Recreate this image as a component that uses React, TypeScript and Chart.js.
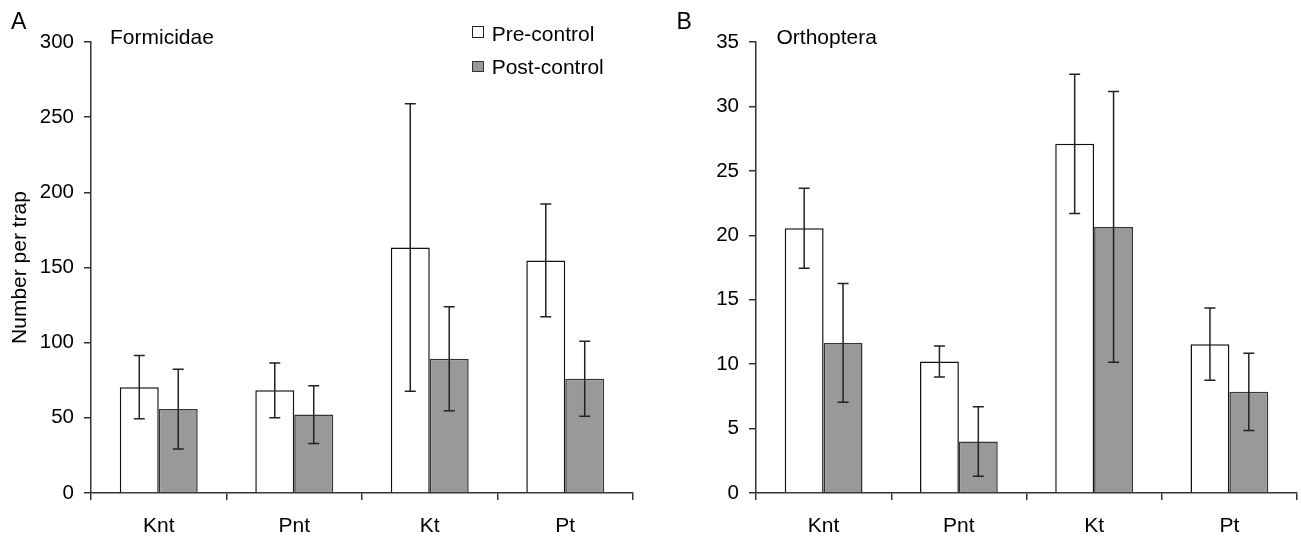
import React, { useEffect, useRef } from "react";
import { Chart, registerables } from "chart.js";

Chart.register(...registerables);

const categories = ["Knt", "Pnt", "Kt", "Pt"];

const formicidaePre = [70.4, 68.3, 163.3, 154.7];
const formicidaePreErr = [21, 18.2, 95.6, 37.5];
const formicidaePost = [55.8, 52.2, 89.3, 76];
const formicidaePostErr = [26.5, 19.2, 34.6, 24.9];

const orthopteraPre = [20.55, 10.2, 27.1, 11.55];
const orthopteraPreErr = [3.1, 1.2, 5.4, 2.8];
const orthopteraPost = [11.65, 4.0, 20.65, 7.85];
const orthopteraPostErr = [4.6, 2.7, 10.5, 3.0];

const formicidaeAxis = { min: 0, max: 300, step: 50 };
const orthopteraAxis = { min: 0, max: 35, step: 5 };

const seriesNames = ["Pre-control", "Post-control"];

const FONT = "'Liberation Sans', Arial, Helvetica, sans-serif";
const AXIS_COLOR = "#333";
const POST_FILL = "#999999";

const errorBarPlugin = {
  id: "errorBars",
  afterDatasetsDraw(chart: any) {
    const ctx = chart.ctx;
    const yScale = chart.scales.y;
    chart.data.datasets.forEach((ds: any, i: number) => {
      const meta = chart.getDatasetMeta(i);
      const errs: number[] = ds.errors || [];
      meta.data.forEach((bar: any, j: number) => {
        const v = ds.data[j];
        const e = errs[j];
        if (e == null) return;
        const x = bar.x;
        const yT = yScale.getPixelForValue(v + e);
        const yB = yScale.getPixelForValue(Math.max(0, v - e));
        ctx.save();
        ctx.strokeStyle = "#222";
        ctx.lineWidth = 1.5;
        ctx.beginPath();
        ctx.moveTo(x, yT);
        ctx.lineTo(x, yB);
        ctx.moveTo(x - 5.5, yT);
        ctx.lineTo(x + 5.5, yT);
        ctx.moveTo(x - 5.5, yB);
        ctx.lineTo(x + 5.5, yB);
        ctx.stroke();
        ctx.restore();
      });
    });
  },
};

function makeConfig(
  pre: number[],
  preErr: number[],
  post: number[],
  postErr: number[],
  axis: { min: number; max: number; step: number },
  yTitle: string | null,
  yWidth: number,
  padRight: number
): any {
  return {
    type: "bar",
    data: {
      labels: categories,
      datasets: [
        {
          label: seriesNames[0],
          data: pre,
          errors: preErr,
          backgroundColor: "#ffffff",
          borderColor: "#111",
          borderWidth: 1.5,
          borderSkipped: "start",
          barPercentage: 1,
          categoryPercentage: 0.575,
        },
        {
          label: seriesNames[1],
          data: post,
          errors: postErr,
          backgroundColor: POST_FILL,
          borderColor: "#333",
          borderWidth: 1.5,
          borderSkipped: "start",
          barPercentage: 1,
          categoryPercentage: 0.575,
        },
      ],
    },
    options: {
      responsive: false,
      animation: false,
      events: [],
      layout: { padding: { left: 0, right: padRight, top: 42, bottom: 0 } },
      plugins: {
        legend: { display: false },
        tooltip: { enabled: false },
        title: { display: false },
      },
      scales: {
        x: {
          grid: {
            display: true,
            drawOnChartArea: false,
            offset: true,
            tickLength: 7,
            color: AXIS_COLOR,
            lineWidth: 1.5,
          },
          border: { display: true, color: AXIS_COLOR, width: 1.5 },
          ticks: { font: { family: FONT, size: 21 }, color: "#000", padding: 14 },
          afterFit: (s: any) => {
            s.height = 46;
          },
        },
        y: {
          min: axis.min,
          max: axis.max,
          ticks: {
            stepSize: axis.step,
            font: { family: FONT, size: 20.5 },
            color: "#000",
            padding: 10,
          },
          grid: {
            display: true,
            drawOnChartArea: false,
            tickLength: 7,
            color: AXIS_COLOR,
            lineWidth: 1.5,
          },
          border: { display: true, color: AXIS_COLOR, width: 1.5 },
          title: {
            display: !!yTitle,
            text: yTitle || "",
            font: { family: FONT, size: 21 },
            color: "#000",
            padding: { top: 8, bottom: 0 },
          },
          afterFit: (s: any) => {
            s.width = yWidth;
          },
        },
      },
    },
    plugins: [errorBarPlugin],
  };
}

function BarPanel(props: { left: number; width: number; config: any }) {
  const ref = useRef<HTMLCanvasElement | null>(null);
  useEffect(() => {
    if (!ref.current) return;
    const chart = new Chart(ref.current, props.config);
    return () => chart.destroy();
  }, []);
  return (
    <canvas
      ref={ref}
      width={props.width}
      height={539}
      style={{ position: "absolute", left: props.left, top: 0, width: props.width, height: 539 }}
    />
  );
}

const textStyle = (left: number, top: number, size: number): React.CSSProperties => ({
  position: "absolute",
  left,
  top,
  fontFamily: FONT,
  fontSize: size,
  lineHeight: `${size}px`,
  color: "#000",
  whiteSpace: "nowrap",
});

export default function App() {
  const configA = makeConfig(
    formicidaePre,
    formicidaePreErr,
    formicidaePost,
    formicidaePostErr,
    formicidaeAxis,
    "Number per trap",
    91,
    17
  );
  const configB = makeConfig(
    orthopteraPre,
    orthopteraPreErr,
    orthopteraPost,
    orthopteraPostErr,
    orthopteraAxis,
    null,
    106,
    4
  );
  return (
    <div
      style={{
        position: "absolute",
        left: 0,
        top: 0,
        width: 1301,
        height: 539,
        background: "#fff",
        overflow: "hidden",
      }}
    >
      <BarPanel left={0} width={650} config={configA} />
      <BarPanel left={650} width={651} config={configB} />
      <div style={textStyle(11, 10, 23)}>A</div>
      <div style={textStyle(676.5, 10, 23)}>B</div>
      <div style={textStyle(110, 26.2, 21)}>Formicidae</div>
      <div style={textStyle(776.5, 26.2, 21)}>Orthoptera</div>
      <div
        style={{
          position: "absolute",
          left: 472,
          top: 26,
          width: 9.5,
          height: 9.5,
          border: "1.5px solid #222",
          background: "#fff",
        }}
      />
      <div style={textStyle(491.7, 23.2, 21)}>{seriesNames[0]}</div>
      <div
        style={{
          position: "absolute",
          left: 472,
          top: 60.5,
          width: 9.5,
          height: 9.5,
          border: "1.5px solid #333",
          background: POST_FILL,
        }}
      />
      <div style={textStyle(491.7, 55.5, 21)}>{seriesNames[1]}</div>
    </div>
  );
}
